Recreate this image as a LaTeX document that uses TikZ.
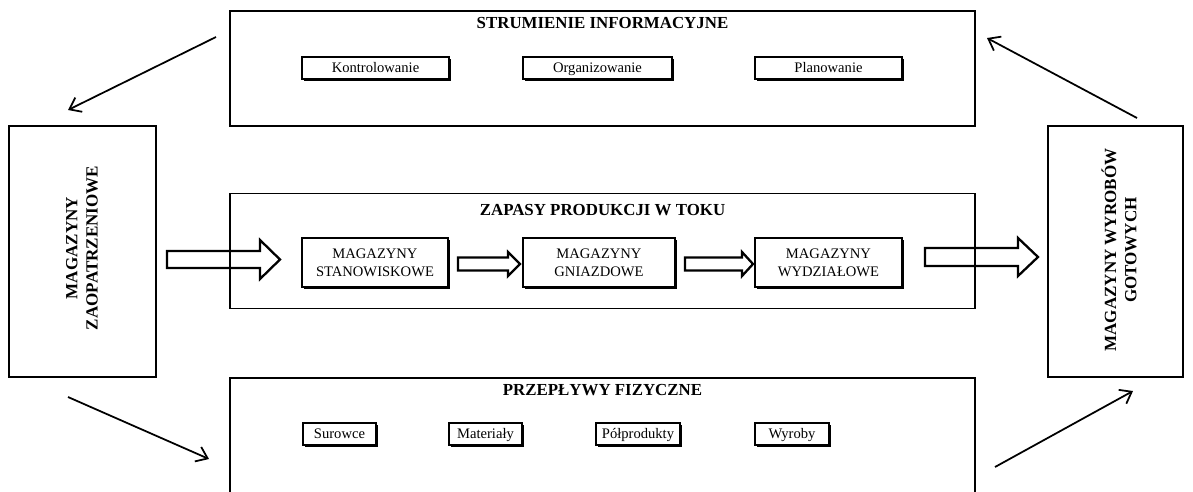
\documentclass[tikz,border=0pt]{standalone}
\usepackage{fontspec}
\setmainfont{Liberation Serif}
\usetikzlibrary{arrows.meta}
\usetikzlibrary{shadows}

\tikzset{
  ramka/.style={draw, line width=1.1pt, minimum width=14.9cm, minimum height=2.3cm, inner sep=0pt},
  magazyn/.style={draw, line width=1.1pt, minimum height=5.02cm, inner sep=0pt},
  tytul/.style={font=\bfseries\fontsize{9.6}{11}\selectfont, inner sep=0pt},
  pionowy/.style={font=\bfseries\fontsize{9.7}{11.5}\selectfont, rotate=90, align=center, inner sep=0pt},
  ramkacien/.style={draw, fill=white, line width=0.8pt, inner sep=0pt,
    font=\fontsize{8.3}{10}\selectfont,
    drop shadow={shadow xshift=1.1pt, shadow yshift=-1.1pt, fill=black, opacity=1}},
  maly/.style={ramkacien, minimum height=0.44cm, text height=1.6ex, text depth=0.45ex},
  sredni/.style={ramkacien, minimum height=0.98cm, align=center},
  strzalka/.style={line width=1pt, -{Straight Barb[length=6pt, width=9pt, line width=1pt]}},
  blok/.style={draw, line width=1.3pt, line join=miter}
}

\begin{document}
\begin{tikzpicture}[x=0.02cm, y=-0.02cm]
\useasboundingbox (0,0) rectangle (1193,491);

% trzy duze ramki
\node[ramka] (info) at (602.5,68.5) {};
\node[ramka] (zapasy) at (602.5,251) {};
\draw[line width=1.1pt] (230,510) -- (230,378) -- (975,378) -- (975,510);
\coordinate (fiz) at (602.5,378);

\node[tytul] at (602.5,22.5) {STRUMIENIE INFORMACYJNE};
\node[tytul] at (602.5,210) {ZAPASY PRODUKCJI W TOKU};
\node[tytul] at (602.5,390) {PRZEPŁYWY FIZYCZNE};

% magazyny po bokach
\node[magazyn, minimum width=2.94cm] (zaop) at (82.5,251.5) {};
\node[pionowy] at (82,248) {MAGAZYNY\\ZAOPATRZENIOWE};
\node[magazyn, minimum width=2.7cm] (gotowe) at (1115.5,251.5) {};
\node[pionowy] at (1119,250) {MAGAZYNY WYROBÓW\\GOTOWYCH};

% strumienie informacyjne
\node[maly, minimum width=2.94cm] (kontr) at (375.5,68) {Kontrolowanie};
\node[maly, minimum width=2.98cm] (organ) at (597.5,68) {Organizowanie};
\node[maly, minimum width=2.94cm] (plan) at (828.5,68) {Planowanie};

% zapasy produkcji w toku
\node[sredni, minimum width=2.92cm] (stan) at (375,262.5) {MAGAZYNY\\STANOWISKOWE};
\node[sredni, minimum width=3.04cm] (gniazd) at (599,262.5) {MAGAZYNY\\GNIAZDOWE};
\node[sredni, minimum width=2.94cm] (wydz) at (828.5,262.5) {MAGAZYNY\\WYDZIAŁOWE};

% przeplywy fizyczne
\node[maly, minimum width=1.46cm] (sur) at (339.5,434) {Surowce};
\node[maly, minimum width=1.46cm] (mat) at (485.5,434) {Materiały};
\node[maly, minimum width=1.68cm] (polp) at (638,434) {Półprodukty};
\node[maly, minimum width=1.48cm] (wyr) at (792,434) {Wyroby};

% strzalki blokowe
\draw[blok] (167,251) -- (260,251) -- (260,240) -- (280,259.5) -- (260,279) -- (260,268) -- (167,268) -- cycle;
\draw[blok] (925,248) -- (1018,248) -- (1018,238) -- (1038,257) -- (1018,276) -- (1018,266) -- (925,266) -- cycle;
\draw[blok] (458,257.5) -- (508,257.5) -- (508,252) -- (520,264) -- (508,276) -- (508,270.5) -- (458,270.5) -- cycle;
\draw[blok] (685,257.5) -- (742,257.5) -- (742,252) -- (753,264) -- (742,276) -- (742,270.5) -- (685,270.5) -- cycle;

% strzalki cienkie
\coordinate (a1) at (216,37);
\coordinate (a2) at (68,110);
\coordinate (b1) at (1137,118);
\coordinate (b2) at (987,38);
\coordinate (c1) at (68,397);
\coordinate (c2) at (209,459);
\coordinate (d1) at (995,467);
\coordinate (d2) at (1133,391);
\draw[strzalka] (a1) -- (a2);
\draw[strzalka] (b1) -- (b2);
\draw[strzalka] (c1) -- (c2);
\draw[strzalka] (d1) -- (d2);
\end{tikzpicture}
\end{document}
